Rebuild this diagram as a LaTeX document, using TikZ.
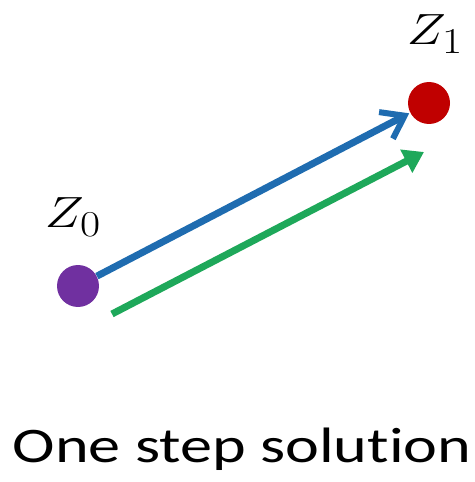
\documentclass[tikz,border=0pt]{standalone}
\usepackage{fontspec}
\newfontfamily\captionfont[Ligatures=NoCommon]{Carlito}
\usetikzlibrary{arrows.meta}
\definecolor{zpurple}{HTML}{7030A0}
\definecolor{zred}{HTML}{C00000}
\definecolor{zblue}{HTML}{1F6CB0}
\definecolor{zgreen}{HTML}{1EA85A}
\newcommand{\wide}[2][1.2]{\scalebox{#1}[1]{#2}}
\begin{document}
\begin{tikzpicture}[x=0.02cm, y=-0.02cm, line cap=butt,
	dot/.style={circle, inner sep=0pt, minimum size=0.84cm},
	zlabel/.style={font=\fontsize{24.88}{30}\selectfont},
	flow/.style={line width=0.14cm}]
	\useasboundingbox (0,0) rectangle (474,482);
	\node[dot, fill=zpurple] (Z0) at (78,286) {};
	\node[dot, fill=zred] (Z1) at (429,103) {};
	\node[zlabel] (L0) at (73,217) {\wide{$Z_0$}};
	\node[zlabel] (L1) at (435,34) {\wide{$Z_1$}};
	\coordinate (G0) at (112,314);
	\coordinate (G1) at (424,152);
	\draw[flow, zblue, -{Straight Barb[length=0.42cm, width=0.6cm, line width=0.12cm]}, shorten >=0.02cm] (Z0) -- (Z1);
	\draw[flow, zgreen, -{Triangle[length=0.4cm, width=0.5cm]}] (G0) -- (G1);
	\node[font=\captionfont\fontsize{28.3}{34}\selectfont, anchor=base, inner sep=0pt] (cap) at (242,462) {\wide[1.29]{One step solution}};
\end{tikzpicture}
\end{document}
